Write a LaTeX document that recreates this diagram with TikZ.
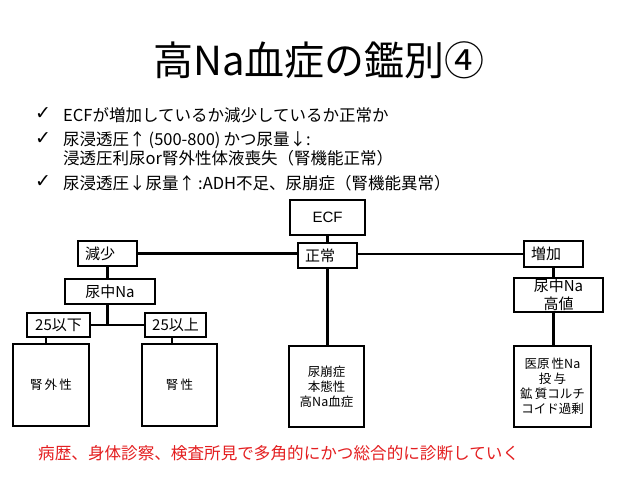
\documentclass[tikz,border=0pt]{standalone}
\usepackage{fontspec}
\setmainfont{Noto Sans CJK JP}
\newfontfamily\jp{Noto Sans CJK JP}
\newfontfamily\djv{DejaVu Sans}
\newfontfamily\lsans{Liberation Sans}
\usetikzlibrary{shadows}
\definecolor{redtxt}{RGB}{228,30,32}
\begin{document}
\begin{tikzpicture}[x=1pt,y=-1pt,
  box/.style={draw, line width=1.3pt, fill=white, inner sep=0pt,
    drop shadow={shadow xshift=1pt, shadow yshift=-1.2pt, opacity=0.25}},
  lbox/.style={box, align=left, inner xsep=7pt, inner ysep=0pt},
  conn/.style={line width=2.2pt},
  txt/.style={inner sep=0pt, anchor=west},
  chk/.style={inner sep=0pt, font=\djv\fontsize{19}{22}\selectfont},
  bul/.style={txt, font=\fontsize{16.5}{20}\selectfont},
  midf/.style={font=\fontsize{15}{18}\selectfont},
  smf/.style={font=\fontsize{12.5}{15}\selectfont}]
\path[fill=white] (0,0) rectangle (638,479);
\useasboundingbox (0,0) rectangle (638,479);

% title
\node[inner sep=0pt, font=\fontsize{40}{48}\selectfont] (title) at (319,60) {高Na血症の鑑別④};

% bullets
\node[chk] (c1) at (43,114) {✓};
\node[chk] (c2) at (43,139) {✓};
\node[chk] (c3) at (43,182) {✓};
\node[bul] (b1) at (63,115) {ECFが増加しているか減少しているか正常か};
\node[bul] (b2) at (63,140) {尿浸透圧↑\hspace{3pt}(500-800)\hspace{3pt}かつ尿量↓:};
\node[bul] (b3) at (63,158) {浸透圧利尿or腎外性体液喪失（腎機能正常）};
\node[bul] (b4) at (63,183) {尿浸透圧↓尿量↑\hspace{3pt}:ADH不足、尿崩症（腎機能異常）};

% diagram boxes
\node[box, minimum width=75pt, minimum height=35pt, font=\lsans\fontsize{15}{18}\selectfont] (ecf) at (327.5,217.5) {ECF};
\node[lbox, midf, text width=45pt, minimum height=25pt] (gen) at (107.5,253.5) {減少};
\node[lbox, midf, text width=45pt, minimum height=25pt] (seijo) at (327.5,255.5) {正常};
\node[lbox, midf, text width=45pt, minimum height=26pt] (zoka) at (553.5,254) {増加};
\node[box, midf, minimum width=90pt, minimum height=25pt] (nyo) at (110,291.5) {尿中Na};
\node[box, midf, align=center, minimum width=89pt, minimum height=34pt] (nyoH) at (558.5,295) {尿中Na\\高値};
\node[box, midf, minimum width=63pt, minimum height=24pt] (le) at (58.5,325) {25以下};
\node[box, midf, minimum width=61pt, minimum height=24pt] (ge) at (175.5,325) {25以上};

\node[box, smf, minimum width=76pt, minimum height=82pt] (jingai) at (51,385) {腎\,外\,性};
\node[box, smf, minimum width=75pt, minimum height=82pt] (jinsei) at (179.5,385) {腎\,性};
\node[box, smf, align=center, minimum width=75pt, minimum height=81pt] (nyohou) at (326.5,386.5) {尿崩症\\本態性\\高Na血症};
\node[box, smf, align=center, minimum width=77pt, minimum height=81pt] (iga) at (552.5,386.5) {医原\,性Na\\投\,与\\鉱\,質コルチ\\コイド過剰};

% connectors
\draw[conn] (ecf.south) -- (seijo.north -| ecf.south);
\draw[conn] (seijo.south -| ecf.south) -- (nyohou.north -| ecf.south);
\draw[conn] (gen.east) -- (gen.east -| seijo.west);
\draw[conn] (seijo.east |- zoka.west) -- (zoka.west);
\draw[conn] (zoka.south) -- (zoka.south |- nyoH.north);
\draw[conn] (nyoH.south -| zoka.south) -- (iga.north -| zoka.south);
\draw[conn] (gen.south) -- (gen.south |- nyo.north);
\coordinate (jn) at (gen.south |- le.east);
\draw[conn] (nyo.south -| gen.south) -- (jn);
\draw[conn] (le.east) -- (ge.west);
\draw[conn] ([xshift=-12.5pt]le.south) -- ([xshift=-12.5pt]le.south |- jingai.north);
\draw[conn] ([xshift=-3.5pt]ge.south) -- ([xshift=-3.5pt]ge.south |- jinsei.north);

% red text
\node[txt, text=redtxt, font=\fontsize{16.6}{20}\selectfont] (red) at (38,453) {病歴、身体診察、検査所見で多角的にかつ総合的に診断していく};
\end{tikzpicture}
\end{document}
